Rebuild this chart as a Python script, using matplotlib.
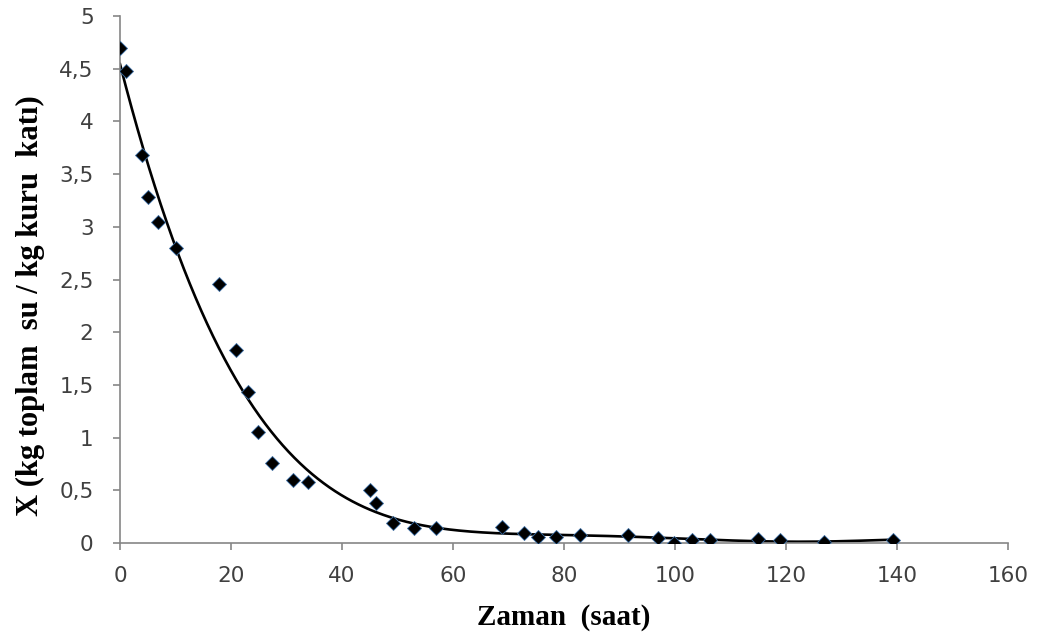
import numpy as np
import matplotlib
matplotlib.use("Agg")
import matplotlib.pyplot as plt
from matplotlib.ticker import FuncFormatter

# drying data: time (h) vs moisture content X (kg water / kg dry solid)
zaman = [0, 1.1, 4.0, 5.0, 6.8, 10.1, 17.9, 20.9, 23.0, 24.9, 27.4, 31.1, 33.9,
         45.0, 46.2, 49.2, 53.0, 57.0, 68.9, 72.8, 75.3, 78.6, 82.9, 91.5, 96.9,
         99.8, 103.0, 106.3, 115.0, 119.0, 126.8, 139.3]
nem = [4.70, 4.48, 3.68, 3.28, 3.05, 2.80, 2.46, 1.83, 1.43, 1.05, 0.76, 0.60, 0.58,
       0.50, 0.38, 0.19, 0.14, 0.14, 0.15, 0.10, 0.06, 0.06, 0.08, 0.08, 0.05,
       0.00, 0.03, 0.03, 0.04, 0.03, 0.01, 0.03]

x_ticks = [0, 20, 40, 60, 80, 100, 120, 140, 160]
y_ticks = [0, 0.5, 1, 1.5, 2, 2.5, 3, 3.5, 4, 4.5, 5]

# polynomial trendline (6th order) through the measurements
trend = np.polynomial.Polynomial.fit(zaman, nem, 6)
tx = np.linspace(min(zaman), max(zaman), 400)
ty = trend(tx)

fig = plt.figure(figsize=(10.39, 6.39), dpi=100)
ax = fig.add_axes([0.1155, 0.150, 0.8545, 0.825])

ax.plot(tx, ty, color="black", lw=1.9, zorder=2)
ax.plot(zaman, nem, ls="none", marker="D", ms=7.3, mfc="black",
        mec="#3a6ea5", mew=0.6, zorder=3)

ax.set_xlim(0, 160)
ax.set_ylim(0, 5)
ax.set_xticks(x_ticks)
ax.set_yticks(y_ticks)
ax.yaxis.set_major_formatter(FuncFormatter(lambda v, p: f"{v:g}".replace(".", ",")))

for s in ["top", "right"]:
    ax.spines[s].set_visible(False)
for s in ["left", "bottom"]:
    ax.spines[s].set_color("#868686")
    ax.spines[s].set_linewidth(1.2)
ax.tick_params(direction="out", length=5, width=1.2, color="#868686",
               labelsize=15.5, labelcolor="#404040")
ax.tick_params(axis="y", pad=14)
ax.tick_params(axis="x", pad=11.5)
for lab in ax.get_xticklabels() + ax.get_yticklabels():
    lab.set_family("DejaVu Sans")

ax.set_xlabel("Zaman  (saat)", family="Liberation Serif", weight="bold",
              fontsize=21)
ax.set_ylabel("X (kg toplam  su / kg kuru  katı)", family="Liberation Serif",
              weight="bold", fontsize=22)
ax.xaxis.set_label_coords(0.5, -0.116)
ax.yaxis.set_label_coords(-0.085, 0.45)

fig.savefig("out.png", dpi=100)
